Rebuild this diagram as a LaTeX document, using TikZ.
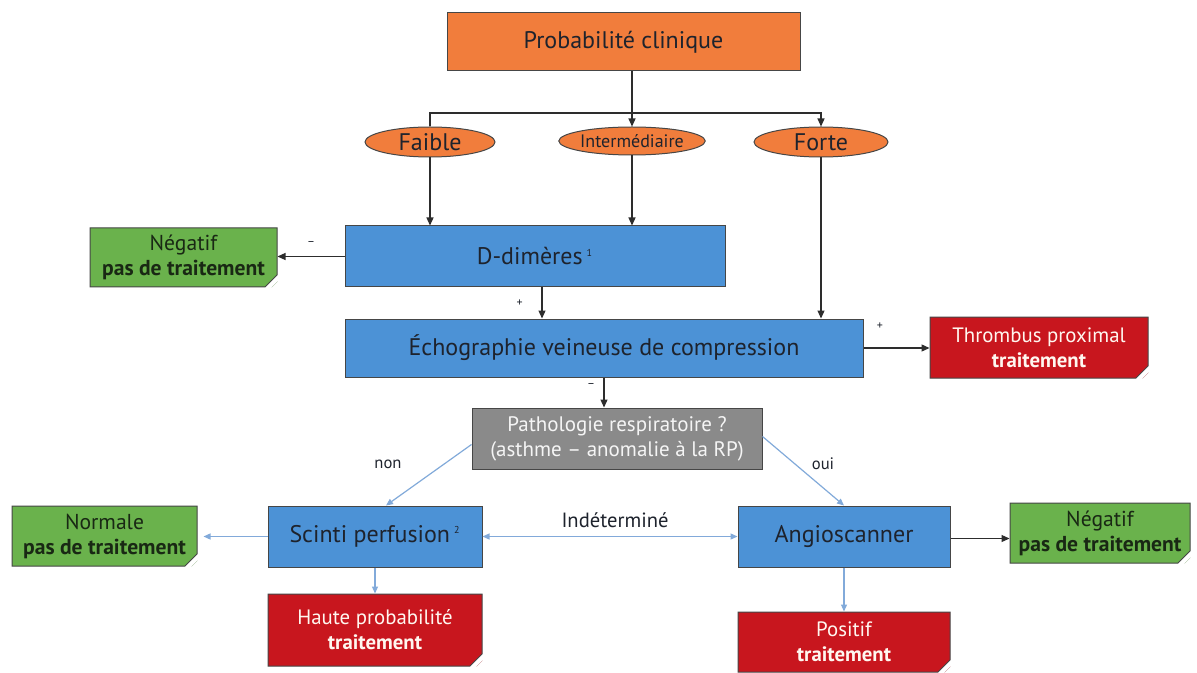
\documentclass[tikz,border=0pt]{standalone}
\usepackage{fontspec}
\setmainfont{PT Sans}
\usetikzlibrary{arrows.meta,shapes.geometric,shapes.misc,calc}
\definecolor{orangeF}{RGB}{241,125,60}
\definecolor{blueF}{RGB}{76,146,214}
\definecolor{greenF}{RGB}{106,178,76}
\definecolor{redF}{RGB}{200,22,30}
\definecolor{grayF}{RGB}{138,138,138}
\definecolor{edgeC}{RGB}{70,70,70}
\definecolor{lineK}{RGB}{45,45,45}
\definecolor{lineB}{RGB}{130,170,218}
\definecolor{txtD}{RGB}{30,35,45}
\definecolor{txtG}{RGB}{25,40,20}
\begin{document}
\begin{tikzpicture}[x=0.5pt,y=-0.5pt,
  boxbase/.style={draw=edgeC,line width=0.5pt,inner sep=0pt,align=center,font=\fontsize{12}{14}\selectfont},
  orbox/.style={boxbase,rectangle,fill=orangeF,text=txtD},
  oval/.style={boxbase,ellipse,fill=orangeF,text=txtD},
  bluebox/.style={boxbase,rectangle,fill=blueF,text=txtD},
  graybox/.style={boxbase,rectangle,fill=grayF,text=white!92!gray,font=\fontsize{10.5}{12.5}\selectfont},
  note/.style={boxbase,chamfered rectangle,chamfered rectangle corners=south east,chamfered rectangle xsep=3pt,chamfered rectangle ysep=3pt,font=\fontsize{10.8}{12.5}\selectfont},
  greennote/.style={note,fill=greenF,text=txtG},
  rednote/.style={note,fill=redF,text=white!94!orange,font=\fontsize{10.4}{12.5}\selectfont},
  arr/.style={draw=lineK,line width=0.6pt,-{Triangle[length=4pt,width=3.5pt]}},
  arrb/.style={draw=lineB,line width=0.6pt,-{Triangle[length=3.5pt,width=3pt]}},
  lbl/.style={font=\fontsize{8.3}{10}\selectfont,text=txtD},
  sgn/.style={font=\fontsize{6}{7}\selectfont,text=txtD},
]
\useasboundingbox (0,0) rectangle (1197,673);
\fill[white] (0,0) rectangle (1197,673);

% nodes
\node[orbox,minimum width=176.5pt,minimum height=29pt] (prob) at (623.5,42) {Probabilité clinique};
\node[oval,minimum width=65pt,minimum height=15pt] (faible) at (430,142) {Faible};
\node[oval,minimum width=65pt,minimum height=14pt,inner xsep=0pt,font=\fontsize{9}{10}\selectfont] (inter) at (632,141) {Intermédiaire};
\node[oval,minimum width=67pt,minimum height=15pt] (forte) at (821,142) {Forte};
\node[bluebox,minimum width=190pt,minimum height=30.5pt] (ddim) at (535,256.5) {D-dimères\,\textsuperscript{\tiny 1}};
\node[greennote,minimum width=93.5pt,minimum height=29.5pt] (neg1) at (183.5,257.5) {Négatif\\\textbf{pas de traitement}};
\node[bluebox,minimum width=259pt,minimum height=29pt] (echo) at (604,348) {Échographie veineuse de compression};
\node[rednote,minimum width=109pt,minimum height=30.5pt] (thromb) at (1039,347.5) {Thrombus proximal\\\textbf{traitement}};
\node[graybox,minimum width=145pt,minimum height=30.5pt] (patho) at (617,438.5) {Pathologie respiratoire ?\\(asthme -- anomalie à la RP)};
\node[bluebox,minimum width=107pt,minimum height=30.5pt] (scinti) at (375,536.5) {Scinti perfusion\,\textsuperscript{\tiny 2}};
\node[bluebox,minimum width=106pt,minimum height=30.5pt] (angio) at (844,536.5) {Angioscanner};
\node[greennote,minimum width=92.5pt,minimum height=30pt] (normale) at (104.5,536) {Normale\\\textbf{pas de traitement}};
\node[greennote,minimum width=90pt,minimum height=30pt] (neg2) at (1100,533) {Négatif\\\textbf{pas de traitement}};
\node[rednote,minimum width=107pt,minimum height=36pt] (haute) at (375,630) {Haute probabilité\\\textbf{traitement}};
\node[rednote,minimum width=106pt,minimum height=30pt] (positif) at (844,642) {Positif\\\textbf{traitement}};

% folds
\foreach \n/\c in {neg1/greenF,normale/greenF,neg2/greenF,thromb/redF,haute/redF,positif/redF}{
  \fill[\c!70!black] ($(\n.east |- \n.south)+(-6,0)$) -- ($(\n.east |- \n.south)+(0,-6)$) -- ($(\n.east |- \n.south)+(-4,-2)$) -- cycle;
}

% connectors
\coordinate (hy) at (0,113);
\draw[arr] (prob.south -| inter.north) -- (inter.north);
\draw[arr] (faible.north) -- (faible.north |- hy) -- (forte.north |- hy) -- (forte.north);
\draw[arr] (faible.south) -- (faible.south |- ddim.north);
\draw[arr] (inter.south) -- (inter.south |- ddim.north);
\draw[arr] (ddim.west) -- (ddim.west -| neg1.east) node[midway,above=2pt,sgn] {--};
\coordinate (c542) at (542,0);
\draw[arr] (ddim.south -| c542) -- (echo.north -| c542) node[midway,left=6pt,sgn] {+};
\draw[arr] (forte.south) -- (forte.south |- echo.north);
\draw[arr] (echo.east) -- (echo.east -| thromb.west);
\node[sgn] (plus2) at (880,326) {+};
\draw[arr] (echo.south) -- (echo.south |- patho.north);
\node[sgn] (minus2) at (591,386) {--};
\draw[arrb] ([yshift=-3]patho.west) -- ([xshift=5.5pt]scinti.north);
\draw[arrb] ([yshift=1]patho.east) -- (angio.north);
\node[lbl] (non) at (388,464) {non};
\node[lbl] (oui) at (823,464) {oui};
\draw[arrb,{Triangle[length=3.5pt,width=3pt]}-{Triangle[length=3.5pt,width=3pt]}] (scinti.east) -- (angio.west);
\node[lbl,font=\fontsize{10.3}{12}\selectfont] (indet) at (615,520) {Indéterminé};
\draw[arrb] (scinti.west) -- ([xshift=3pt]scinti.west -| normale.east);
\draw[arrb] (scinti.south) -- (haute.north);
\draw[arr] ([yshift=-1]angio.east) -- ([yshift=-1]angio.east -| neg2.west);
\draw[arrb] (angio.south) -- (positif.north);
\end{tikzpicture}
\end{document}
